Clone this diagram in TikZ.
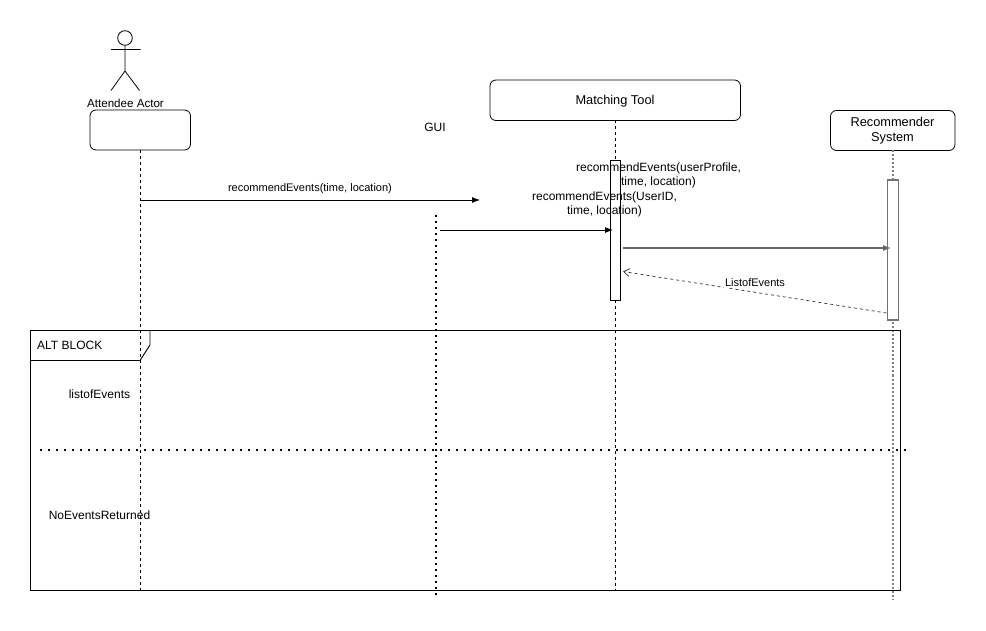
\documentclass[tikz,border=0pt]{standalone}
\usepackage{fontspec}
\setmainfont{Liberation Sans}
\usetikzlibrary{arrows.meta}
\begin{document}
\begin{tikzpicture}[x=1pt,y=-1pt,
  every node/.style={font=\fontsize{12}{14}\selectfont, inner sep=0pt},
  small/.style={font=\fontsize{11}{13}\selectfont},
  big/.style={font=\fontsize{12.8}{15}\selectfont},
  lbox/.style={draw, rounded corners=6pt, line width=0.8pt},
  lifeline/.style={dashed, dash pattern=on 3pt off 3pt, line width=0.8pt},
  actbar/.style={draw, fill=white, line width=0.8pt},
  msg/.style={-{Latex[length=8pt,width=6pt]}, line width=0.8pt},
  retmsg/.style={dashed, dash pattern=on 3pt off 3pt, line width=0.7pt, -{Straight Barb[length=6pt,width=8pt]}},
  lbl/.style={align=center}
]
\useasboundingbox (0,0) rectangle (986,631);
% actor
\draw[line width=0.8pt] (125,38) circle (7.3);
\draw[line width=0.8pt] (125,45.3) -- (125,71) (111,49.5) -- (140.5,49.5)
  (111,90.5) -- (125,71) -- (139.5,90.5);
\node[font=\fontsize{11.6}{14}\selectfont] (actorlbl) at (125.5,103) {Attendee Actor};
\draw[lbox] (90,110) rectangle (190.5,150);
\coordinate (att) at (140.5,150);
\coordinate (attend) at (140.5,590);
\draw[lifeline] (att) -- (attend);
% GUI
\node (gui) at (435,127) {GUI};
\coordinate (guitop) at (436,215);
\coordinate (guibot) at (436,596);
\draw[line width=1.6pt, dash pattern=on 1.6pt off 4.4pt] (guitop) -- (guibot);
% Matching tool
\draw[lbox] (490,80) rectangle (740.5,120.5);
\node[big] (mt) at (615,101) {Matching Tool};
\draw[lifeline] (615,120.5) -- (615,590);
\draw[actbar] (610,160) rectangle (620.5,300);
% Recommender
\draw[lbox] (830.5,110.5) rectangle (955,150.5);
\node[big, lbl] (rs) at (892.5,130.5) {Recommender\\System};
\draw[lifeline, draw=gray, line width=1.2pt, dash pattern=on 2pt off 2pt] (893,150.5) -- (893,600);
\draw[actbar, draw=black!55, line width=1.1pt] (887.5,180) rectangle (898.5,320);
% messages
\coordinate (m1s) at (140.5,200);
\coordinate (m1e) at (480,200);
\draw[msg] (m1s) -- (m1e);
\node[small] (m1l) at (310,189) {recommendEvents(time, location)};
\coordinate (m2s) at (440,230);
\coordinate (m2e) at (613,230);
\draw[msg] (m2s) -- (m2e);
\node[lbl] (m2l) at (604.5,204.5) {recommendEvents(UserID,\\time, location)};
\node[lbl] (m3l) at (658.5,175.5) {recommendEvents(userProfile,\\time, location)};
\coordinate (m3s) at (623,248);
\coordinate (m3e) at (891,248);
\draw[msg, draw=black!60, line width=1.1pt] (m3s) -- (m3e);
\coordinate (r1s) at (886.5,313);
\coordinate (r1e) at (623,271.5);
\draw[retmsg, draw=black!80] (r1s) -- (r1e);
\node[small, fill=white, inner sep=1pt] (r1l) at (755,283) {ListofEvents};
% alt block
\draw[line width=0.9pt] (30,330.5) rectangle (900.5,590);
\draw[line width=0.9pt] (30,360.5) -- (140,360.5) -- (150,345) -- (150,330.5);
\node[anchor=west] (alt) at (37,345) {ALT BLOCK};
\draw[line width=1.6pt, dash pattern=on 1.6pt off 6.4pt] (40,450) -- (906,450);
\node (c1) at (99.5,394.5) {listofEvents};
\node (c2) at (99.5,515) {NoEventsReturned};
\end{tikzpicture}
\end{document}
